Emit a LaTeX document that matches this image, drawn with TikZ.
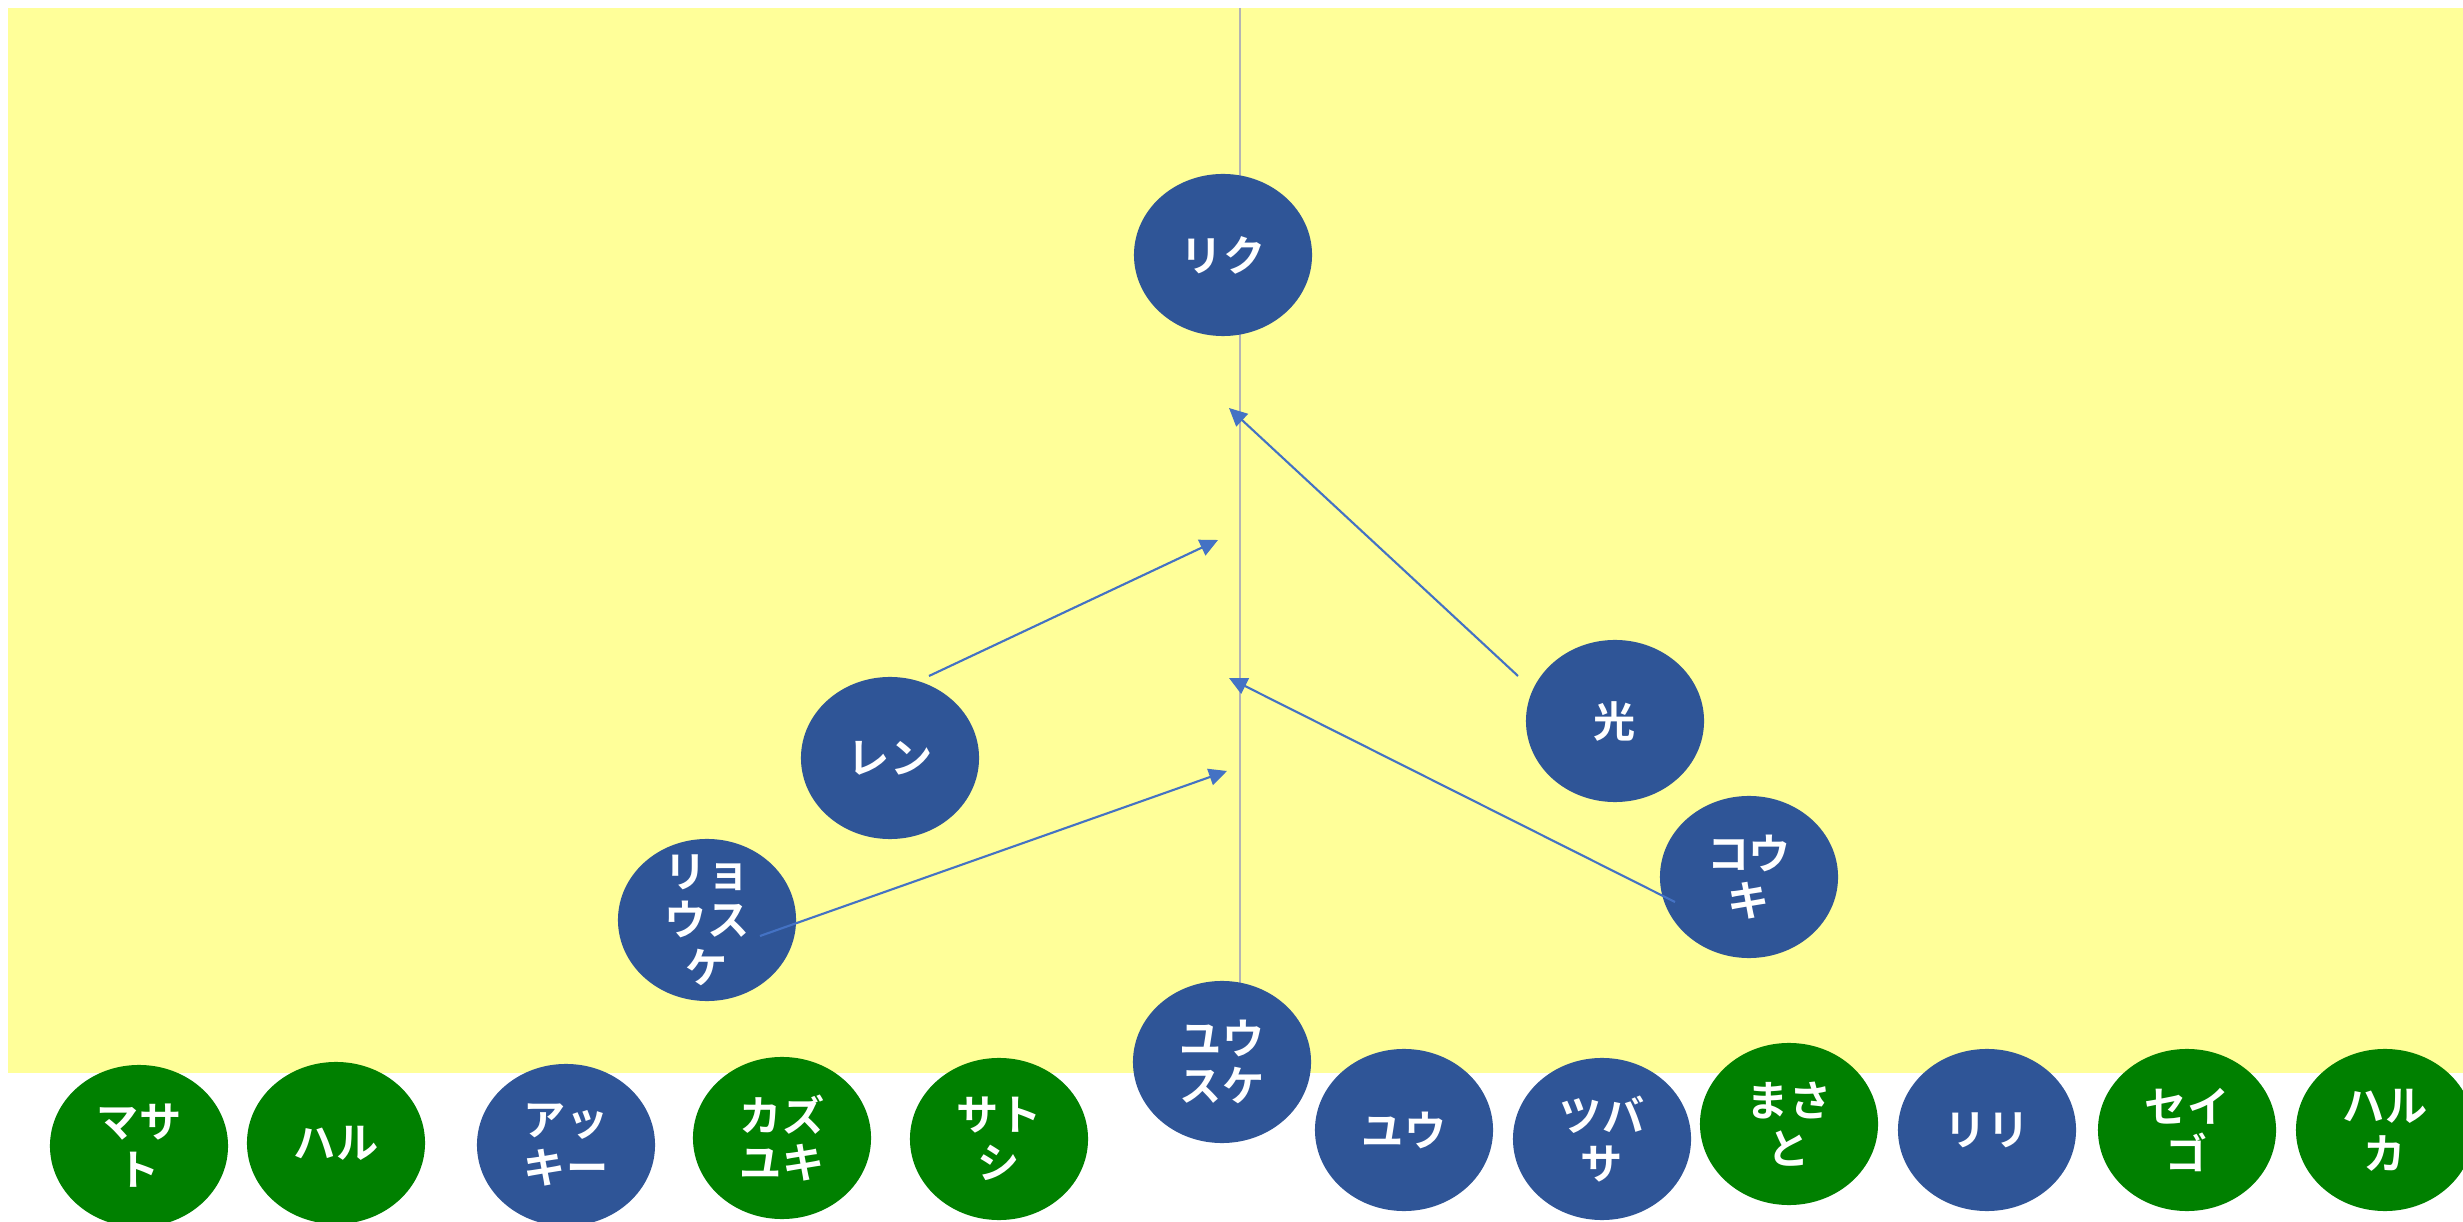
\documentclass[tikz,border=0pt]{standalone}
\usepackage{fontspec}
\newfontfamily\cjk{Noto Sans CJK JP}[BoldFont={Noto Sans CJK JP Bold}]
\usetikzlibrary{arrows.meta,shapes.geometric}
\definecolor{padyellow}{HTML}{FFFF99}
\definecolor{kidblue}{HTML}{2F5597}
\definecolor{kidgreen}{HTML}{008000}
\definecolor{arrowblue}{HTML}{4472C4}
\definecolor{axisgray}{HTML}{B4B4B4}
\tikzset{
  kid/.style={ellipse,minimum width=1.78cm,minimum height=1.62cm,inner sep=0pt,
    label={[text=white,align=center,font=\cjk\bfseries\fontsize{12}{13.6}\selectfont]center:{#1}}},
  blue kid/.style={kid={#1},fill=kidblue},
  green kid/.style={kid={#1},fill=kidgreen},
  pull/.style={-{Triangle[length=0.18cm,width=0.17cm]},draw=arrowblue,line width=0.6pt},
}
\begin{document}
\begin{tikzpicture}[x=0.01cm,y=-0.01cm]
\useasboundingbox (0,0) rectangle (2463,1222);
% \draw[help lines] (0,0) grid (2463,1222);
\fill[padyellow] (8,8) rectangle (2463,1073);
\coordinate (axisTop) at (1240,8);
\coordinate (axisEnd) at (1240,983);
\draw[axisgray,line width=0.55pt] (axisTop) -- (axisEnd);
%
\node[blue kid={リク}] (riku) at (1223,255) {};
\node[blue kid={光}] (hikari) at (1615,721) {};
\node[blue kid={コウ\\キ}] (kouki) at (1749,877) {};
\node[blue kid={レン}] (ren) at (890,758) {};
\node[blue kid={リョ\\ウス\\ケ}] (ryosuke) at (707,920) {};
\node[blue kid={ユウ\\スケ}] (yusuke) at (1222,1062) {};
%
\node[green kid={マサ\\ト}] (masato) at (139,1146) {};
\node[green kid={ハル}] (haru) at (336,1143) {};
\node[blue kid={アッ\\キー}] (akki) at (566,1145) {};
\node[green kid={カズ\\ユキ}] (kazuyuki) at (782,1138) {};
\node[green kid={サト\\シ}] (satoshi) at (999,1139) {};
\node[blue kid={ユウ}] (yuu) at (1404,1130) {};
\node[blue kid={ツバ\\サ}] (tsubasa) at (1602,1139) {};
\node[green kid={まさ\\と}] (masatoH) at (1789,1124) {};
\node[blue kid={リリ}] (riri) at (1987,1130) {};
\node[green kid={セイ\\ゴ}] (seigo) at (2187,1130) {};
\node[green kid={ハル\\カ}] (haruka) at (2385,1130) {};
%
\coordinate (hikariOut) at (1518,676);
\coordinate (hikariIn) at (1229,408);
\coordinate (renOut) at (929,676);
\coordinate (renIn) at (1218,540);
\coordinate (koukiOut) at (1675,902);
\coordinate (koukiIn) at (1229,678);
\coordinate (ryosukeOut) at (760,936);
\coordinate (ryosukeIn) at (1227,771);
\draw[pull] (hikariOut) -- (hikariIn);
\draw[pull] (renOut) -- (renIn);
\draw[pull] (koukiOut) -- (koukiIn);
\draw[pull] (ryosukeOut) -- (ryosukeIn);
\end{tikzpicture}
\end{document}
